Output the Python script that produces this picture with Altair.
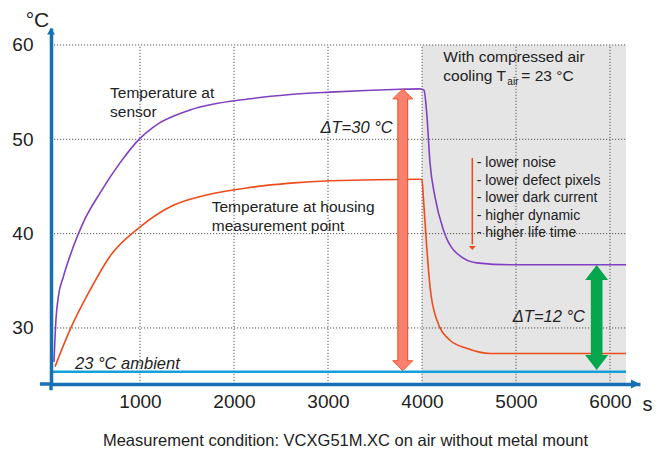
import altair as alt
import pandas as pd

# ---------------- data ----------------
# Temperature at sensor (time in s, temperature in °C)
sensor_t = [85, 106, 131, 184, 290, 397, 574, 787, 1000, 1142, 1532, 2170, 2600, 3021,
            3766, 3979, 4021, 4050, 4085, 4138, 4227, 4333, 4582, 4936, 6170]
sensor_v = [26.4, 30.9, 33.3, 35.4, 38.6, 41.2, 44.3, 47.5, 50.1, 51.3, 53.1, 54.3, 54.75, 55.0,
            55.3, 55.35, 55.2, 52.8, 47.5, 43.9, 40.4, 38.3, 36.9, 36.7, 36.7]

# Temperature at housing measurement point
housing_t = [96, 255, 468, 681, 1000, 1354, 1709, 2170, 2600, 3021, 3979, 4000, 4014,
             4050, 4085, 4156, 4298, 4475, 4723, 6170]
housing_v = [25.9, 29.8, 34.0, 37.6, 40.7, 43.0, 44.1, 44.9, 45.35, 45.6, 45.76, 45.7, 43.9,
             38.6, 34.4, 30.9, 28.7, 27.85, 27.3, 27.3]

x_ticks = [1000, 2000, 3000, 4000, 5000, 6000]
y_ticks = [30, 40, 50, 60]

ambient_level = [25.37]           # "23 °C ambient" line
cooling_span = [4000, 6170]       # compressed-air cooling period
t_end = 6170

X_DOMAIN = [53.2, 6319.0]
Y_DOMAIN = [24.06, 61.8]
axis_overhang = [-65, 23.4]        # where the axis lines run past their crossing

# double arrows: x, tip values, head-base values
red_arrow_t = [3795]
red_arrow_tips = [55.34, 25.47]
red_arrow_bases = [54.5, 26.3]
green_arrow_t = [5858]
green_arrow_tips = [36.68, 25.55]
green_arrow_bases = [35.3, 26.9]
small_arrow_t = [4535]
small_arrow_span = [48.02, 38.27]

bullets = ["- lower noise", "- lower defect pixels", "- lower dark current",
           "- higher dynamic", "- higher life time"]
bullet_v = [47.46, 45.58, 43.75, 41.87, 40.10]
bullet_t = 4582

labels_text = ["Temperature at", "sensor", "Temperature at housing", "measurement point",
               "With compressed air", "cooling T"]
labels_t = [681, 681, 1763, 1763, 4227, 4227]
labels_v = [54.9, 52.9, 42.86, 40.84, 58.76, 56.71]

delta_text = ["\u0394T=30 \u00b0C", "\u0394T=12 \u00b0C"]
delta_t = [3688, 5734]
delta_v = [51.17, 31.13]

ambient_text = ["23 \u00b0C ambient"]
ambient_text_t = [309]
ambient_text_v = [26.15]

caption = "Measurement condition: VCXG51M.XC on air without metal mount"

# ---------------- styles ----------------
FONT = "Liberation Sans"
TXT = "#222222"
AXIS_BLUE = "#1770b5"
AMBIENT_BLUE = "#14a0d8"
PURPLE = "#8040c0"
ORANGE = "#ee4b1c"
SALMON = "#fa8070"
SALMON_EDGE = "#f25a2a"
GREEN = "#06a64e"

xs = alt.Scale(domain=X_DOMAIN, nice=False, zero=False)
ys = alt.Scale(domain=Y_DOMAIN, nice=False, zero=False)

x_axis = alt.Axis(values=x_ticks, format="d", title="s", titleAngle=0, titleX=596, titleY=20,
                  titleAlign="center", titleBaseline="middle", titleFontSize=20,
                  titleFont=FONT, titleFontWeight="normal", titleColor=TXT,
                  labelFont=FONT, labelFontSize=19, labelColor=TXT, labelPadding=8,
                  ticks=False, tickSize=0, grid=False, domainColor=AXIS_BLUE,
                  domainWidth=3.5, labelFlush=False, labelOverlap=False, zindex=1)
y_axis = alt.Axis(values=y_ticks, title="\u00b0C", titleAngle=0, titleX=-14, titleY=-8,
                  titleAlign="center", titleBaseline="middle", titleFontSize=21,
                  titleFont=FONT, titleFontWeight="normal", titleColor=TXT,
                  labelFont=FONT, labelFontSize=19, labelColor=TXT, labelPadding=18,
                  ticks=False, tickSize=0, grid=False, domainColor=AXIS_BLUE,
                  domainWidth=3.5, labelFlush=False, labelOverlap=False, zindex=1)


def X(field):
    return alt.X(field, scale=xs, axis=x_axis)


def Y(field):
    return alt.Y(field, scale=ys, axis=y_axis)


# gray cooling region
gray_df = pd.DataFrame({"t0": [cooling_span[0]], "t1": [cooling_span[1]],
                        "v0": [Y_DOMAIN[0]], "v1": [max(y_ticks)]})
gray = alt.Chart(gray_df).mark_rect(color="#e5e5e5").encode(
    x=X("t0:Q"), x2="t1:Q", y=Y("v0:Q"), y2="v1:Q")

# dotted grid lines
vgrid_df = pd.DataFrame({"t": x_ticks, "v0": Y_DOMAIN[0], "v1": max(y_ticks)})
hgrid_df = pd.DataFrame({"v": y_ticks, "t0": X_DOMAIN[0], "t1": t_end})
grid_style = dict(stroke="#555555", strokeWidth=1, strokeDash=[1.2, 1.8])
vgrid = alt.Chart(vgrid_df).mark_rule(**grid_style).encode(
    x=X("t:Q"), y=Y("v0:Q"), y2="v1:Q")
hgrid = alt.Chart(hgrid_df).mark_rule(**grid_style).encode(
    y=Y("v:Q"), x=X("t0:Q"), x2="t1:Q")

# ambient line
amb_df = pd.DataFrame({"v": ambient_level, "t0": X_DOMAIN[0], "t1": t_end})
amb = alt.Chart(amb_df).mark_rule(stroke=AMBIENT_BLUE, strokeWidth=2.5).encode(
    y=Y("v:Q"), x=X("t0:Q"), x2="t1:Q")

# axis overhang past the crossing point
ov_h = alt.Chart(pd.DataFrame({"t0": [axis_overhang[0]], "t1": [X_DOMAIN[0]], "v": [Y_DOMAIN[0]]})
                 ).mark_rule(stroke=AXIS_BLUE, strokeWidth=3.5).encode(
    x=X("t0:Q"), x2="t1:Q", y=Y("v:Q"))
ov_v = alt.Chart(pd.DataFrame({"t": [X_DOMAIN[0]], "v0": [axis_overhang[1]], "v1": [Y_DOMAIN[0]]})
                 ).mark_rule(stroke=AXIS_BLUE, strokeWidth=3.5).encode(
    x=X("t:Q"), y=Y("v0:Q"), y2="v1:Q")

# curves
sensor_df = pd.DataFrame({"t": sensor_t, "v": sensor_v})
housing_df = pd.DataFrame({"t": housing_t, "v": housing_v})
sensor = alt.Chart(sensor_df).mark_line(color=PURPLE, strokeWidth=1.6, interpolate="monotone").encode(
    x=X("t:Q"), y=Y("v:Q"))
housing = alt.Chart(housing_df).mark_line(color=ORANGE, strokeWidth=1.6, interpolate="monotone").encode(
    x=X("t:Q"), y=Y("v:Q"))

UP_HEAD = "M0,0L1,1L-1,1Z"
DOWN_HEAD = "M0,0L1,-1L-1,-1Z"


def shaft(t, v0, v1, color, width):
    df = pd.DataFrame({"t": t, "v0": [v0], "v1": [v1]})
    return alt.Chart(df).mark_rule(stroke=color, strokeWidth=width).encode(
        x=X("t:Q"), y=Y("v0:Q"), y2="v1:Q")


def head(t, v, shape, size, fill, stroke=None, sw=0):
    df = pd.DataFrame({"t": t, "v": [v]})
    kw = dict(shape=shape, size=size, filled=True, fill=fill, opacity=1)
    if stroke:
        kw.update(stroke=stroke, strokeWidth=sw)
    else:
        kw.update(strokeWidth=0)
    return alt.Chart(df).mark_point(**kw).encode(x=X("t:Q"), y=Y("v:Q"))


red = [
    shaft(red_arrow_t, red_arrow_bases[0] - 0.2, red_arrow_bases[1] + 0.2, SALMON_EDGE, 11),
    head(red_arrow_t, red_arrow_tips[0], UP_HEAD, 400, SALMON, SALMON_EDGE, 1),
    head(red_arrow_t, red_arrow_tips[1], DOWN_HEAD, 400, SALMON, SALMON_EDGE, 1),
    shaft(red_arrow_t, red_arrow_bases[0], red_arrow_bases[1], SALMON, 8.5),
]
green = [
    shaft(green_arrow_t, green_arrow_bases[0], green_arrow_bases[1], GREEN, 11.7),
    head(green_arrow_t, green_arrow_tips[0], "M0,0L1,1.3L-1,1.3Z", 529, GREEN),
    head(green_arrow_t, green_arrow_tips[1], "M0,0L1,-1.3L-1,-1.3Z", 529, GREEN),
]
small = [
    shaft(small_arrow_t, small_arrow_span[0], small_arrow_span[1] + 0.6, ORANGE, 1.5),
    head(small_arrow_t, small_arrow_span[1], "M0,0L1,-1.1L-1,-1.1Z", 49, ORANGE),
]

# axis arrowheads
axis_heads = [
    head([X_DOMAIN[0]], Y_DOMAIN[1], "M0,0L1,1.6L-1,1.6Z", 64, AXIS_BLUE),
    head([X_DOMAIN[1]], Y_DOMAIN[0], "M0,0L-2,-1L-2,1Z", 81, AXIS_BLUE),
]


def text_layer(texts, ts, vs, size, align="left", italic=False, dx=0, dy=0):
    df = pd.DataFrame({"t": ts, "v": vs, "txt": texts})
    kw = dict(font=FONT, fontSize=size, align=align, baseline="middle", color=TXT, dx=dx, dy=dy)
    if italic:
        kw["fontStyle"] = "italic"
    return alt.Chart(df).mark_text(**kw).encode(x=X("t:Q"), y=Y("v:Q"), text="txt:N")


texts = [
    text_layer(labels_text, labels_t, labels_v, 15.5),
    text_layer(["air"], [labels_t[-1]], [labels_v[-1]], 10, dx=64, dy=6),
    text_layer(["= 23 \u00b0C"], [labels_t[-1]], [labels_v[-1]], 15.5, dx=78),
    text_layer(bullets, [bullet_t] * len(bullets), bullet_v, 14),
    text_layer(delta_text, delta_t, delta_v, 16.5, align="right", italic=True),
    text_layer(ambient_text, ambient_text_t, ambient_text_v, 16.5, italic=True),
]

chart = alt.layer(
    gray, vgrid, hgrid, amb, ov_h, ov_v, sensor, housing, *red, *green, *small, *texts,
    *axis_heads
).properties(
    width=589, height=356,
    padding={"left": 43, "top": 20, "right": 12, "bottom": 67},
    autosize=alt.AutoSizeParams(type="none"),
    title=alt.TitleParams(caption, orient="bottom", anchor="middle", font=FONT,
                          fontSize=16.5, fontWeight="normal", color=TXT, offset=19),
    background="white",
).configure_view(stroke=None)

chart.save("out.html", embed_options={"renderer": "svg", "actions": False})
